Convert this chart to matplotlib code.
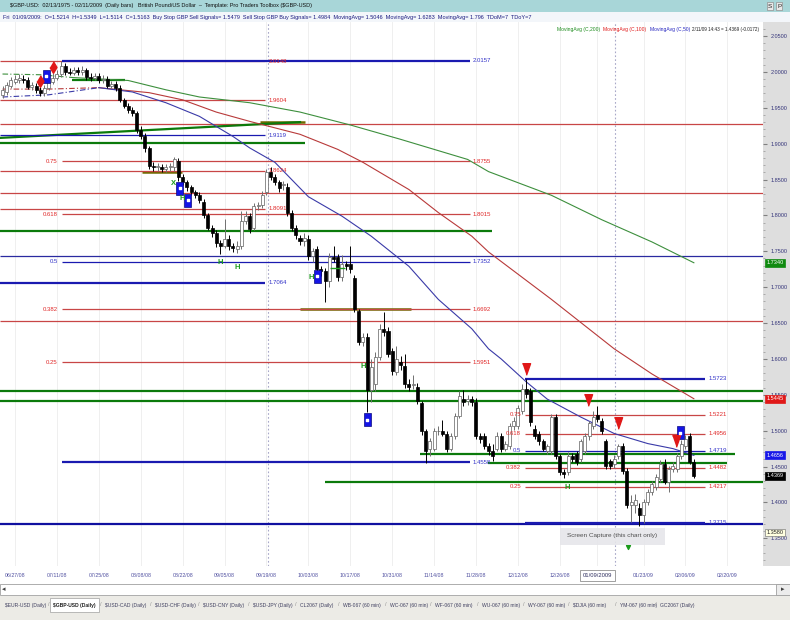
import matplotlib
matplotlib.use("Agg")
import matplotlib.pyplot as plt
import matplotlib.transforms as mtransforms
from matplotlib.patches import Rectangle

plt.rcParams['font.family'] = ['Liberation Sans', 'DejaVu Sans']

# bar numbers, 0 = 06/27/08, one bar per trading day
bars = list(range(-3, 163))

opens = [
    1.968, 1.972, 1.981, 1.986, 1.989, 1.990, 1.989, 1.979, 1.980, 1.975,
    1.971, 1.978, 1.986, 1.992, 1.997, 2.008, 2.000, 1.999, 2.003, 2.000,
    2.003, 1.993, 1.992, 1.994, 1.989, 1.990, 1.981, 1.983, 1.978, 1.961,
    1.953, 1.947, 1.943, 1.919, 1.911, 1.894, 1.869, 1.867, 1.868, 1.865,
    1.867, 1.867, 1.876, 1.853, 1.846, 1.839, 1.833, 1.828, 1.819, 1.800,
    1.783, 1.776, 1.762, 1.758, 1.767, 1.757, 1.753, 1.758, 1.792, 1.799,
    1.783, 1.813, 1.814, 1.832, 1.860, 1.854, 1.846, 1.842, 1.840, 1.804,
    1.783, 1.769, 1.764, 1.767, 1.743, 1.753, 1.725, 1.722, 1.708, 1.742,
    1.742, 1.714, 1.732, 1.732, 1.713, 1.667, 1.624, 1.631, 1.556, 1.565,
    1.603, 1.642, 1.639, 1.611, 1.582, 1.596, 1.590, 1.565, 1.564, 1.561,
    1.538, 1.499, 1.475, 1.475, 1.499, 1.500, 1.496, 1.475, 1.493, 1.521,
    1.544, 1.542, 1.544, 1.540, 1.493, 1.493, 1.479, 1.472, 1.475, 1.493,
    1.475, 1.478, 1.506, 1.507, 1.527, 1.558, 1.555, 1.503, 1.496, 1.485,
    1.472, 1.472, 1.519, 1.464, 1.443, 1.443, 1.465, 1.467, 1.461, 1.471,
    1.492, 1.507, 1.5214, 1.514, 1.485, 1.458, 1.453, 1.465, 1.479, 1.444,
    1.396, 1.396, 1.392, 1.382, 1.401, 1.415, 1.422, 1.433, 1.454, 1.429,
    1.447, 1.447, 1.464, 1.479, 1.492, 1.457,
]
highs = [
    1.981, 1.986, 1.993, 1.995, 1.997, 1.996, 1.993, 1.986, 1.984, 1.979,
    1.982, 1.990, 1.998, 2.003, 2.015, 2.013, 2.005, 2.007, 2.007, 2.008,
    2.006, 1.998, 1.998, 1.998, 1.995, 1.994, 1.987, 1.987, 1.982, 1.964,
    1.956, 1.951, 1.946, 1.924, 1.915, 1.897, 1.874, 1.873, 1.872, 1.871,
    1.873, 1.882, 1.880, 1.857, 1.849, 1.843, 1.836, 1.832, 1.823, 1.803,
    1.787, 1.780, 1.766, 1.795, 1.772, 1.762, 1.765, 1.806, 1.806, 1.803,
    1.817, 1.818, 1.834, 1.865, 1.867, 1.858, 1.850, 1.848, 1.845, 1.808,
    1.787, 1.773, 1.776, 1.772, 1.755, 1.757, 1.729, 1.726, 1.748, 1.757,
    1.746, 1.745, 1.737, 1.757, 1.717, 1.670, 1.636, 1.636, 1.600, 1.610,
    1.648, 1.666, 1.645, 1.615, 1.618, 1.604, 1.607, 1.572, 1.577, 1.566,
    1.542, 1.503, 1.490, 1.504, 1.506, 1.515, 1.500, 1.497, 1.525, 1.555,
    1.556, 1.550, 1.548, 1.545, 1.497, 1.497, 1.483, 1.482, 1.498, 1.497,
    1.486, 1.510, 1.519, 1.536, 1.565, 1.572, 1.560, 1.508, 1.500, 1.489,
    1.482, 1.523, 1.523, 1.468, 1.447, 1.470, 1.469, 1.471, 1.489, 1.497,
    1.514, 1.527, 1.5349, 1.518, 1.489, 1.461, 1.466, 1.482, 1.483, 1.448,
    1.410, 1.412, 1.399, 1.405, 1.419, 1.430, 1.440, 1.459, 1.460, 1.451,
    1.457, 1.469, 1.487, 1.494, 1.497, 1.461,
]
lows = [
    1.964, 1.968, 1.978, 1.983, 1.985, 1.984, 1.976, 1.975, 1.971, 1.966,
    1.967, 1.975, 1.983, 1.988, 1.993, 1.996, 1.995, 1.995, 1.996, 1.996,
    1.989, 1.987, 1.988, 1.985, 1.985, 1.977, 1.977, 1.974, 1.958, 1.949,
    1.943, 1.939, 1.915, 1.907, 1.889, 1.865, 1.862, 1.862, 1.860, 1.861,
    1.862, 1.862, 1.848, 1.842, 1.834, 1.829, 1.824, 1.817, 1.796, 1.779,
    1.770, 1.756, 1.746, 1.754, 1.752, 1.749, 1.748, 1.753, 1.788, 1.776,
    1.780, 1.808, 1.810, 1.828, 1.850, 1.842, 1.833, 1.836, 1.799, 1.778,
    1.767, 1.759, 1.758, 1.738, 1.735, 1.720, 1.716, 1.679, 1.700, 1.735,
    1.708, 1.709, 1.724, 1.720, 1.665, 1.619, 1.618, 1.526, 1.540, 1.555,
    1.598, 1.632, 1.602, 1.578, 1.577, 1.585, 1.560, 1.555, 1.558, 1.537,
    1.494, 1.455, 1.464, 1.471, 1.494, 1.492, 1.470, 1.471, 1.489, 1.517,
    1.535, 1.536, 1.535, 1.488, 1.483, 1.474, 1.466, 1.458, 1.471, 1.470,
    1.471, 1.474, 1.501, 1.503, 1.523, 1.546, 1.507, 1.489, 1.480, 1.471,
    1.467, 1.468, 1.460, 1.438, 1.434, 1.438, 1.456, 1.452, 1.456, 1.467,
    1.487, 1.503, 1.5114, 1.495, 1.447, 1.447, 1.448, 1.461, 1.440, 1.392,
    1.373, 1.385, 1.367, 1.372, 1.397, 1.411, 1.418, 1.429, 1.425, 1.415,
    1.442, 1.443, 1.460, 1.475, 1.453, 1.434,
]
closes = [
    1.975, 1.982, 1.989, 1.990, 1.992, 1.989, 1.979, 1.982, 1.975, 1.971,
    1.978, 1.986, 1.992, 1.997, 2.008, 2.000, 1.999, 2.003, 2.000, 2.003,
    1.993, 1.992, 1.994, 1.989, 1.990, 1.981, 1.983, 1.978, 1.961, 1.953,
    1.947, 1.943, 1.919, 1.911, 1.894, 1.869, 1.867, 1.868, 1.865, 1.867,
    1.868, 1.878, 1.853, 1.846, 1.839, 1.833, 1.828, 1.821, 1.800, 1.783,
    1.775, 1.761, 1.758, 1.767, 1.757, 1.754, 1.758, 1.792, 1.799, 1.781,
    1.813, 1.814, 1.829, 1.860, 1.854, 1.846, 1.838, 1.843, 1.804, 1.783,
    1.772, 1.764, 1.769, 1.743, 1.750, 1.725, 1.722, 1.708, 1.742, 1.739,
    1.714, 1.732, 1.729, 1.725, 1.669, 1.624, 1.631, 1.556, 1.589, 1.603,
    1.642, 1.638, 1.607, 1.583, 1.600, 1.592, 1.565, 1.561, 1.565, 1.542,
    1.499, 1.472, 1.486, 1.499, 1.500, 1.496, 1.475, 1.493, 1.521, 1.549,
    1.540, 1.544, 1.540, 1.493, 1.489, 1.479, 1.472, 1.465, 1.493, 1.475,
    1.482, 1.506, 1.514, 1.531, 1.558, 1.551, 1.512, 1.493, 1.485, 1.475,
    1.478, 1.519, 1.465, 1.443, 1.440, 1.465, 1.461, 1.457, 1.485, 1.493,
    1.510, 1.519, 1.5163, 1.499, 1.451, 1.451, 1.461, 1.478, 1.444, 1.396,
    1.401, 1.403, 1.382, 1.401, 1.415, 1.426, 1.436, 1.454, 1.429, 1.447,
    1.451, 1.465, 1.482, 1.489, 1.457, 1.437,
]

# moving averages (bar number, value)
ma200_idx = [-3, 6, 14, 27, 36, 44, 56, 68, 80, 92, 108, 113, 128, 140, 152, 162]
ma200_val = [1.997, 1.996, 1.992, 1.988, 1.975, 1.965, 1.957, 1.944, 1.926, 1.906,
             1.878, 1.861, 1.828, 1.794, 1.763, 1.734]
ma100_idx = [-3, 8, 20, 32, 40, 48, 56, 68, 77, 83, 94, 101, 109, 113, 128, 143, 152, 162]
ma100_val = [1.976, 1.976, 1.978, 1.971, 1.961, 1.944, 1.931, 1.913, 1.892, 1.874,
             1.836, 1.804, 1.771, 1.749, 1.683, 1.614, 1.579, 1.5445]
ma50_idx = [-3, 8, 20, 28, 36, 44, 52, 56, 62, 70, 78, 85, 94, 101, 109, 113, 116,
            122, 127, 135, 143, 151, 157, 162]
ma50_val = [1.965, 1.968, 1.978, 1.972, 1.957, 1.938, 1.910, 1.894, 1.874, 1.826,
            1.799, 1.771, 1.729, 1.683, 1.642, 1.614, 1.600, 1.568, 1.544, 1.519,
            1.496, 1.482, 1.475, 1.4656]

# retracement groups
fib_a_levels = [2.0148, 1.9604, 1.9119, 1.8624, 1.8091, 1.7064]
fib_a_kind = ['r', 'r', 'b', 'r', 'r', 'B']
fib_b_levels = [2.0157, 1.8755, 1.8015, 1.7352, 1.6692, 1.5951, 1.4558]
fib_c_levels = [1.5723, 1.5221, 1.4956, 1.4719, 1.4482, 1.4217, 1.3715]
fib_ratios = ['', '0.75', '0.618', '0.5', '0.382', '0.25', '']
fib_bc_kind = ['B', 'r', 'r', 'b', 'r', 'r', 'B']

# other drawn levels
full_red = [1.928, 1.831, 1.653]
full_blue = [1.744]
full_blue_thick = [1.3696]
full_green = [1.5553, 1.5418]
green_segs = [(1.4288, 74, 178.5), (1.7783, -3.6, 113.8), (1.9013, -3.6, 69.2),
              (1.4675, 96.7, 171.8), (1.4555, 112.9, 169.9), (1.989, 13.6, 26.3)]
thin_green_segs = [(1.727, 75.2, 78.8)]
olive_segs = [(1.861, 30.3, 39.9), (1.669, 68, 94.5), (1.930, 58.5, 69.2)]

# signals
blue_sq = [(7.4, 1.994), (39.3, 1.8375), (41.2, 1.821), (72.1, 1.715), (84.1, 1.515), (158.8, 1.497)]
red_dn = [(122, 1.586), (136.8, 1.543), (143.9, 1.511), (157.8, 1.486)]
red_dia = [(6, 1.987), (9.1, 2.007)]
green_h = [(37.7, 1.845, 'X'), (39.9, 1.823, 'H'), (48.9, 1.735, 'H'), (53, 1.727, 'H'),
           (70.6, 1.714, 'H'), (83, 1.589, 'H'), (131.7, 1.421, 'H')]

date_pos = [0, 10, 20, 30, 40, 50, 60, 70, 80, 90, 100, 110, 120, 130, 139, 150, 160, 170]
date_lbl = ['06/27/08', '07/11/08', '07/25/08', '08/08/08', '08/22/08', '09/05/08',
            '09/19/08', '10/03/08', '10/17/08', '10/31/08', '11/14/08', '11/28/08',
            '12/12/08', '12/26/08', '01/09/2009', '01/23/09', '02/06/09', '02/20/09']

price_tags = [(1.7340, '#108a10', 'white'), (1.5445, '#e01818', 'white'),
              (1.4656, '#1818e8', 'white'), (1.4369, 'black', 'white'),
              (1.3580, '#ffffe0', '#202020')]

tabs = [r'\$EUR-USD (Daily)', r'\$GBP-USD (Daily)', r'\$USD-CAD (Daily)', r'\$USD-CHF (Daily)',
        r'\$USD-CNY (Daily)', r'\$USD-JPY (Daily)', 'CL2067 (Daily)', 'WB-067 (60 min)',
        'WC-067 (60 min)', 'WF-067 (60 min)', 'WU-067 (60 min)', 'WY-067 (60 min)',
        r'\$DJIA (60 min)', 'YM-067 (60 min)', 'GC2067 (Daily)']
tab_x = [5, 53, 105, 155, 203, 253, 300, 343, 390, 435, 482, 528, 573, 620, 660]

RED, BLUE, GREEN, OLIVE = '#c84646', '#2a2aa0', '#0b7a0b', '#6e6a00'

W, H = 790.0, 620.0
fig = plt.figure(figsize=(7.9, 6.2), dpi=100)
fig.patch.set_facecolor('white')


def px_box(x0, y0, x1, y1, **kw):
    fig.add_artist(Rectangle((x0 / W, 1 - y1 / H), (x1 - x0) / W, (y1 - y0) / H,
                             transform=fig.transFigure, **kw))


def px_text(x, y, s, **kw):
    kw.setdefault('va', 'center')
    fig.text(x / W, 1 - y / H, s, **kw)


ax = fig.add_axes([0, 54 / H, 763 / W, 544 / H])
ax.set_xlim(-3.6, 178.5)
ax.set_ylim(1.3114, 2.0695)
for sp in ax.spines.values():
    sp.set_visible(False)

# grid + crosshair lines
ax.set_xticks(date_pos)
ax.set_xticklabels(date_lbl)
ax.grid(axis='x', color='#ececec', linewidth=0.6, zorder=0)
for xv in (60.4, 143.2):
    ax.axvline(xv, color='#a8a8c8', linestyle=(0, (1.5, 2)), linewidth=0.8, zorder=1)

# level lines
for p in full_red:
    ax.hlines(p, -3.6, 178.5, colors=RED, linewidth=0.9, zorder=2)
for p in full_blue:
    ax.hlines(p, -3.6, 178.5, colors=BLUE, linewidth=0.9, zorder=2)
for p in full_blue_thick:
    ax.hlines(p, -3.6, 178.5, colors='#1010a0', linewidth=1.6, zorder=2)
for p in full_green:
    ax.hlines(p, -3.6, 178.5, colors=GREEN, linewidth=1.6, zorder=2)
for p, a, b in green_segs:
    ax.hlines(p, a, b, colors=GREEN, linewidth=1.6, zorder=2)
for p, a, b in thin_green_segs:
    ax.hlines(p, a, b, colors='#20a020', linewidth=1.0, zorder=5)
for p, a, b in olive_segs:
    ax.hlines(p, a, b, colors=OLIVE, linewidth=1.8, zorder=2)
ax.plot([-3.6, 68], [1.908, 1.930], color=GREEN, linewidth=1.6, zorder=2)


def draw_fib(levels, kinds, ratios, i0, i1, right_at, left_at):
    for lev, k, r in zip(levels, kinds, ratios):
        col = RED if k == 'r' else '#1a1ab0'
        txt = '#e02828' if k == 'r' else '#3232c8'
        ax.hlines(lev, i0, i1, colors=col, linewidth=1.6 if k == 'B' else 0.9, zorder=2)
        ax.text(right_at, lev, f'{lev:.4f}', color=txt, fontsize=4.3, va='center',
                ha='left', zorder=6)
        if r and left_at is not None:
            ax.text(left_at, lev, r, color=txt, fontsize=4.3, va='center', ha='right', zorder=6)


draw_fib(fib_a_levels, fib_a_kind, [''] * 6, -3.6, 59.7, 60.6, None)
draw_fib(fib_b_levels, fib_bc_kind, fib_ratios, 11.2, 108.6, 109.2, 10.2)
draw_fib(fib_c_levels, fib_bc_kind, fib_ratios, 121.7, 164.7, 165.6, 120.8)

# moving averages (start of each drawn dashed)
for idx, val, col, cut in ((ma200_idx, ma200_val, '#3d8f3d', 2),
                           (ma100_idx, ma100_val, '#b83a3a', 2),
                           (ma50_idx, ma50_val, '#3a3aa8', 2)):
    ax.plot(idx[:cut + 1], val[:cut + 1], color=col, linewidth=0.8, linestyle=(0, (5, 2, 1, 2)), zorder=3)
    ax.plot(idx[cut:], val[cut:], color=col, linewidth=0.8, zorder=3)

# candles
up = [c >= o for o, c in zip(opens, closes)]
ax.vlines(bars, lows, highs, colors=['#707070' if u else '#000000' for u in up],
          linewidth=0.7, zorder=4)
body_low = [min(o, c) for o, c in zip(opens, closes)]
body_h = [max(abs(c - o), 0.0012) for o, c in zip(opens, closes)]
ax.bar(bars, body_h, bottom=body_low, width=0.72,
       color=['white' if u else 'black' for u in up],
       edgecolor=['#606060' if u else 'black' for u in up], linewidth=0.5, zorder=4)

# signal markers
for i, p in blue_sq:
    ax.add_patch(Rectangle((i - 0.85, p - 0.009), 1.7, 0.018, facecolor='#1414e6',
                           edgecolor='#0a0a80', linewidth=0.5, zorder=7))
ax.scatter([i for i, p in blue_sq], [p for i, p in blue_sq], s=3, marker='s',
           color='white', zorder=8)
ax.scatter([i for i, p in red_dn], [p for i, p in red_dn], s=70,
           marker=[(-0.7, 1), (0.7, 1), (0, -1)], color='#e01818', zorder=7)
ax.scatter([i for i, p in red_dia], [p for i, p in red_dia], s=70,
           marker=[(0, 1), (0.6, 0), (0, -1), (-0.6, 0)], color='#e01818', zorder=7)
for i, p, s in green_h:
    ax.text(i, p, s, color='#1a9a1a', fontsize=5.5, fontweight='bold', ha='center',
            va='center', zorder=7)
ax.scatter([146.3], [1.338], s=8, marker='v', color='#1a9a1a', zorder=9)

# axes ticks
ax.yaxis.tick_right()
yt = [1.35 + 0.05 * k for k in range(15)]
ax.set_yticks(yt)
ax.set_yticklabels([f'{v:.4f}' for v in yt])
ax.set_yticks([1.32 + 0.01 * k for k in range(75)], minor=True)
ax.tick_params(axis='y', which='major', length=3, color='#808080', labelsize=4,
               labelcolor='#35357a', pad=2.5)
ax.tick_params(axis='y', which='minor', length=1.5, color='#a0a0a0')
ax.tick_params(axis='x', length=0, labelsize=3.8, labelcolor='#5050a0', pad=5)
xl = ax.get_xticklabels()
xl[14].set_bbox(dict(boxstyle='square,pad=0.45', fc='white', ec='#909090', lw=0.6))
xl[14].set_color('#303060')
xl[14].set_fontsize(4.2)

tag_tr = mtransforms.blended_transform_factory(ax.transAxes, ax.transData)
for p, bg, fg in price_tags:
    ax.text(1.005, p, f'{p:.4f}', transform=tag_tr, fontsize=4, color=fg, va='center',
            ha='left', clip_on=False, zorder=10,
            bbox=dict(boxstyle='square,pad=0.25', fc=bg, ec='#808080' if bg == '#ffffe0' else bg, lw=0.5))

# right price strip
px_box(763, 22, 790, 566, facecolor='#dedede', edgecolor='none', zorder=-1)

# header rows
px_box(0, 0, 790, 12, facecolor='#a8d6d8', edgecolor='none')
px_box(0, 12, 790, 22, facecolor='#f3f6fa', edgecolor='none')
px_text(10, 6, '\\$GBP-USD:  02/13/1975 - 02/11/2009  (Daily bars)   British Pound/US Dollar  \u2013  '
        'Template: Pro Traders Toolbox (\\$GBP-USD)', fontsize=4.0, color='#101010')
px_text(3, 17, 'Fri  01/09/2009:  O=1.5214  H=1.5349  L=1.5114  C=1.5163  Buy Stop GBP Sell Signals= 1.5479  '
        'Sell Stop GBP Buy Signals= 1.4984  MovingAvg= 1.5046  MovingAvg= 1.6283  MovingAvg= 1.796  '
        'TDoM=7  TDoY=7', fontsize=3.95, color='#1a1a80')
px_text(768, 6, 'S', fontsize=4.5, color='#202020',
        bbox=dict(boxstyle='square,pad=0.2', fc='#e8e8e8', ec='#909090', lw=0.5))
px_text(777, 6, 'P', fontsize=4.5, color='#202020',
        bbox=dict(boxstyle='square,pad=0.2', fc='#e8e8e8', ec='#909090', lw=0.5))

# moving average legend row
px_text(557, 29, 'MovingAvg (C,200)', fontsize=3.6, color='#1c8c1c', zorder=5)
px_text(603, 29, 'MovingAvg (C,100)', fontsize=3.6, color='#e01818', zorder=5)
px_text(650, 29, 'MovingAvg (C,50)', fontsize=3.6, color='#2525c0', zorder=5)
px_text(692, 29, '2/11/09 14:43 = 1.4369 (-0.0172)', fontsize=3.3, color='#202020', zorder=5)

# screen capture note
px_box(560, 528, 665, 545, facecolor='#e6e6ea', edgecolor='none', alpha=0.9, zorder=5)
px_text(612, 536, 'Screen Capture (this chart only)', fontsize=4.6, color='#505050', ha='center', zorder=6)

# scroll bar and tabs
px_box(0, 584, 790, 595, facecolor='white', edgecolor='#a0a0a0', linewidth=0.6)
px_box(776, 584, 790, 595, facecolor='#ececec', edgecolor='#a0a0a0', linewidth=0.6)
px_text(2, 590, '\u25c2', fontsize=5, color='#404040')
px_text(781, 590, '\u25b8', fontsize=5, color='#404040')
px_box(0, 596, 790, 620, facecolor='#ecebe6', edgecolor='none')
for k, (x, t) in enumerate(zip(tab_x, tabs)):
    sel = k == 1
    if sel:
        px_box(x - 3, 598, x + 46, 612, facecolor='white', edgecolor='#a0a0a0', linewidth=0.5)
    px_text(x, 605, t, fontsize=3.6, color='#202020' if sel else '#404060',
            fontweight='bold' if sel else 'normal')
    if k > 0:
        px_text(x - 5, 605, '/', fontsize=4, color='#909090')

fig.savefig('out.png', dpi=100)
